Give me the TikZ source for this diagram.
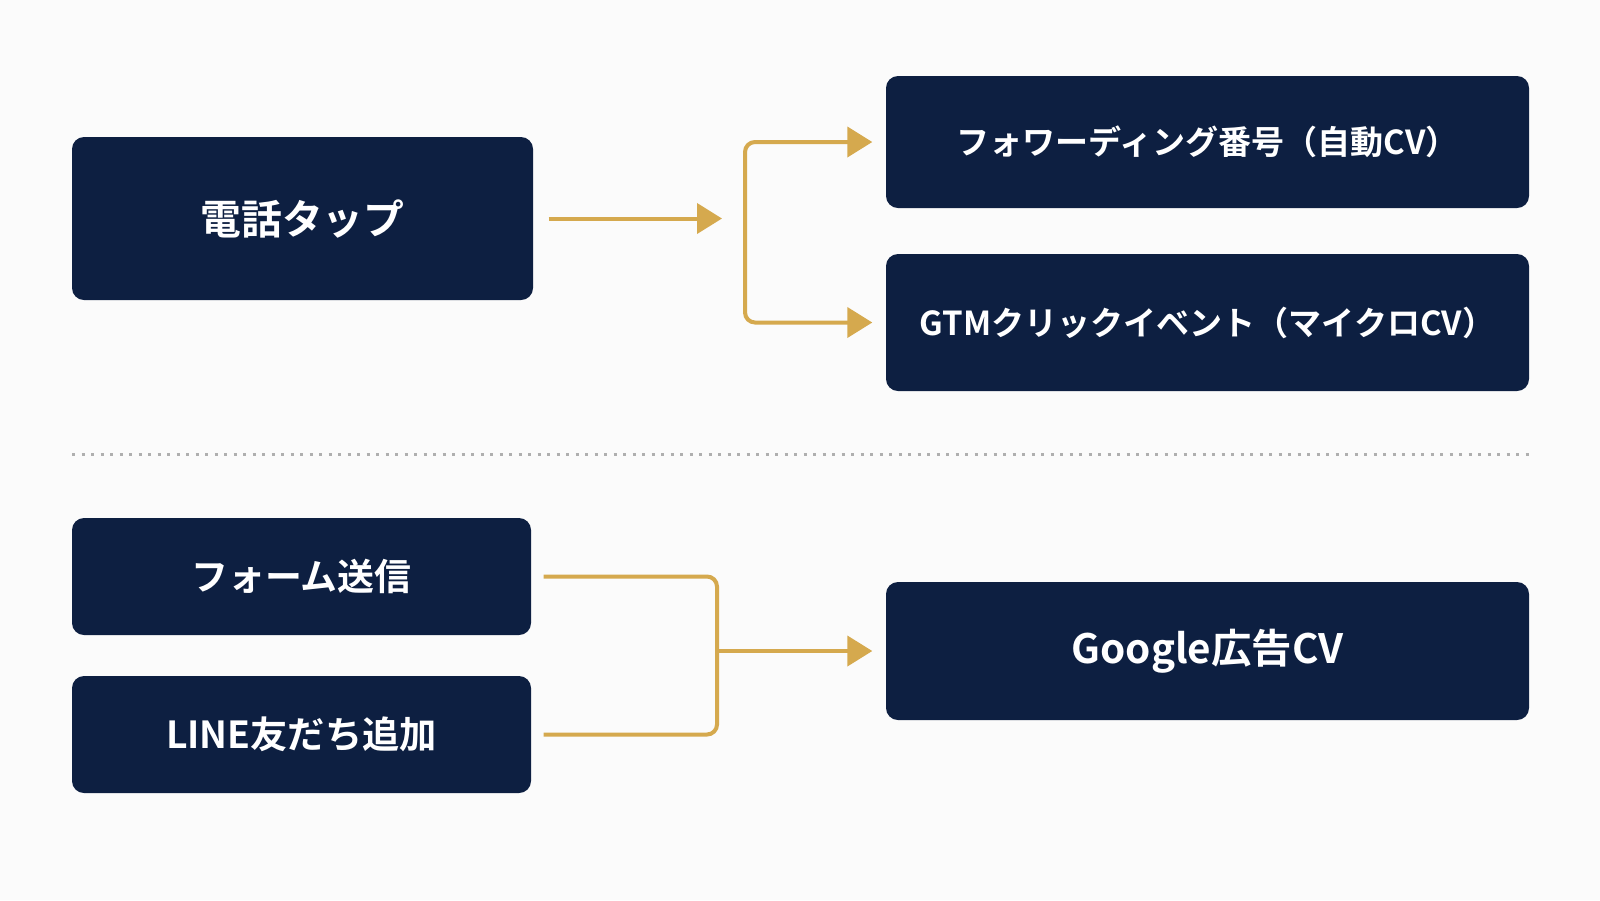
\documentclass[tikz,border=0pt]{standalone}
\usepackage{fontspec}
\setmainfont{Noto Sans CJK JP}[BoldFont={Noto Sans CJK JP Bold}]
\definecolor{PanelNavy}{HTML}{0D1F41}
\definecolor{LinkGold}{HTML}{D5A94E}
\definecolor{RuleGray}{HTML}{AFAFAF}
\definecolor{PageWhite}{HTML}{FBFBFB}
\usetikzlibrary{arrows.meta, positioning, calc}
\tikzset{
    % dark boxes, rounded corners
    navy box/.style={
        rectangle,
        rounded corners=0.12cm,
        fill=PanelNavy,
        draw=none,
        inner sep=0pt,
        text=white,
        align=center,
        font=\bfseries
    },
    gold line/.style={
        draw=LinkGold,
        line width=0.04cm,
        rounded corners=0.1cm
    },
    gold arrow/.style={
        gold line,
        -{Triangle[length=0.25cm,width=0.3cm]}
    },
    sep rule/.style={
        draw=RuleGray,
        line width=0.03cm,
        dash pattern=on 0.03cm off 0.065cm
    }
}

\begin{document}
\begin{tikzpicture}
        % Page
        \fill[PageWhite] (0,0) rectangle (16,-9);
        \useasboundingbox (0,0) rectangle (16,-9);

        % Upper part: phone tap
        \node[navy box, minimum width=4.61cm, minimum height=1.63cm, font=\bfseries\fontsize{11.6}{14}\selectfont] (tel) at (3.025,-2.185) {電話タップ};

        \node[navy box, minimum width=6.43cm, minimum height=1.32cm, font=\bfseries\fontsize{9.4}{12}\selectfont] (fwd) at (12.075,-1.42) {フォワーディング番号（自動CV）};

        \node[navy box, minimum width=6.43cm, minimum height=1.37cm, font=\bfseries\fontsize{9.4}{12}\selectfont] (gtm) at (12.075,-3.225) {GTMクリックイベント（マイクロCV）};

        \coordinate (hub) at (7.22,-2.185);
        \coordinate (fork) at (7.45,-2.3);

        % Arrows
        \draw[gold arrow] ([xshift=0.15cm]tel.east) -- (hub);
        \draw[gold line, {Triangle[length=0.25cm,width=0.3cm]}-{Triangle[length=0.25cm,width=0.3cm]}] ([xshift=-0.13cm]fwd.west) -| (fork) |- ([xshift=-0.13cm]gtm.west);

        % Separator
        \draw[sep rule] (0.72,-4.54) -- (15.29,-4.54);

        % Lower part: form and LINE
        \node[navy box, minimum width=4.59cm, minimum height=1.17cm, font=\bfseries\fontsize{10.5}{13}\selectfont] (form) at (3.015,-5.765) {フォーム送信};

        \node[navy box, minimum width=4.59cm, minimum height=1.17cm, font=\bfseries\fontsize{10.6}{13}\selectfont] (line) at (3.015,-7.345) {LINE友だち追加};

        \node[navy box, minimum width=6.43cm, minimum height=1.38cm, font=\bfseries\fontsize{11.5}{14}\selectfont] (google) at (12.075,-6.51) {Google広告CV};

        \coordinate (join) at (7.17,-6.51);

        \draw[gold line] ([xshift=0.12cm]form.east) -| (join) |- ([xshift=0.12cm]line.east);
        \draw[gold arrow] (join) -- ([xshift=-0.13cm]google.west);
    \end{tikzpicture}
\end{document}
